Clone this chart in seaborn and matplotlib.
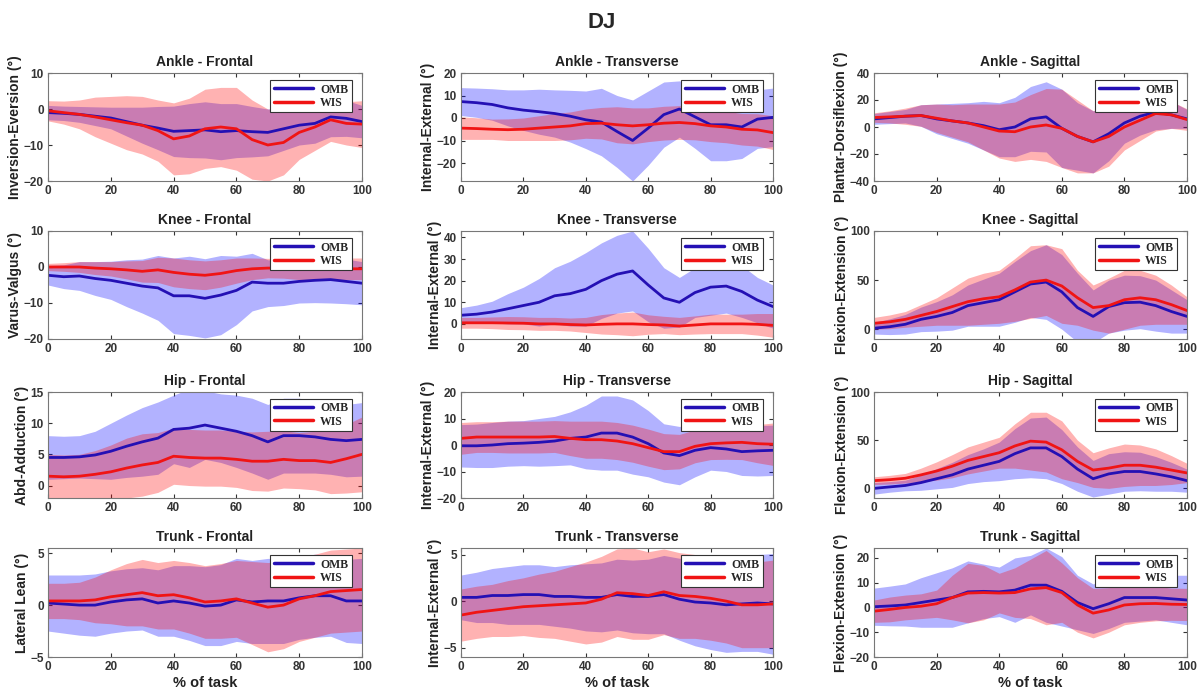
import numpy as np
import seaborn as sns
import matplotlib
matplotlib.use("Agg")
from matplotlib import pyplot as plt

# % of task, sampled every 5 %
PCT = list(range(0, 101, 5))

# Ankle - Frontal
AF_OMB = [-1.0, -1.2, -1.5, -2.0, -2.5, -3.5, -4.5, -5.3, -6.2, -6.0, -5.8, -6.3, -6.0, -6.3, -6.5, -5.5, -4.5, -4.0, -2.2, -2.6, -3.5]
AF_OMB_SD = [2.0, 2.0, 2.2, 2.6, 3.0, 4.0, 5.0, 6.0, 7.0, 7.5, 7.8, 7.8, 7.5, 7.0, 6.5, 6.0, 5.5, 5.5, 5.5, 5.0, 4.5]
AF_WIS = [-0.5, -1.0, -1.5, -2.2, -3.0, -3.8, -4.5, -6.0, -8.3, -7.5, -5.5, -5.0, -5.5, -8.5, -10.0, -9.3, -6.5, -5.0, -3.0, -4.0, -4.2]
AF_WIS_SD = [2.8, 3.2, 4.0, 5.5, 6.5, 7.5, 8.0, 8.5, 10.0, 10.5, 11.0, 11.0, 11.5, 11.0, 10.0, 9.0, 7.5, 6.5, 6.0, 6.0, 6.5]

# Ankle - Transverse
AT_OMB = [7.3, 6.8, 6.0, 4.5, 3.5, 2.8, 2.0, 0.8, -0.8, -1.8, -6.0, -10.0, -4.5, 1.5, 4.0, 0.5, -3.0, -3.0, -4.0, -0.5, 0.3]
AT_OMB_SD = [6.2, 6.5, 7.0, 8.0, 9.0, 10.0, 10.5, 11.5, 12.8, 15.0, 16.0, 18.0, 16.5, 14.5, 12.5, 14.0, 16.0, 16.0, 14.0, 13.0, 13.0]
AT_WIS = [-4.5, -4.7, -5.0, -5.2, -5.0, -4.5, -4.0, -3.5, -2.5, -2.3, -3.0, -3.5, -3.0, -2.3, -2.0, -2.5, -3.5, -4.0, -5.0, -5.3, -6.5]
AT_WIS_SD = [5.0, 4.8, 4.5, 4.8, 5.0, 5.5, 6.0, 6.2, 6.5, 7.0, 8.0, 8.0, 7.5, 7.5, 7.5, 7.2, 7.0, 7.0, 7.0, 7.2, 7.5]

# Ankle - Sagittal
AS_OMB = [6.0, 7.0, 8.0, 8.5, 6.0, 4.5, 3.0, 1.0, -2.0, 0.0, 6.0, 7.5, -1.0, -7.0, -11.0, -5.0, 3.0, 8.0, 11.0, 9.0, 6.0]
AS_OMB_SD = [4.0, 4.5, 5.0, 8.0, 11.0, 13.0, 15.0, 18.0, 20.0, 22.0, 24.0, 26.0, 29.0, 25.0, 23.0, 20.0, 15.0, 14.0, 13.0, 10.0, 7.0]
AS_WIS = [7.0, 7.5, 8.0, 8.5, 6.5, 4.5, 3.0, 0.0, -3.0, -3.5, 0.0, 1.5, -1.0, -7.0, -11.0, -7.0, 0.0, 5.0, 10.0, 9.0, 5.5]
AS_WIS_SD = [3.5, 4.5, 6.0, 8.0, 10.5, 12.0, 14.0, 17.0, 20.0, 22.0, 24.0, 27.0, 29.0, 27.0, 23.0, 22.0, 17.0, 15.0, 13.0, 10.0, 8.0]

# Knee - Frontal
KF_OMB = [-2.3, -2.7, -2.5, -3.2, -3.7, -4.5, -5.3, -5.8, -8.0, -8.0, -8.7, -7.8, -6.5, -4.2, -4.5, -4.5, -4.0, -3.7, -3.5, -4.0, -4.5]
KF_OMB_SD = [2.7, 3.3, 4.0, 4.7, 5.3, 6.5, 7.5, 9.0, 10.5, 11.0, 11.0, 11.0, 9.5, 8.0, 6.5, 6.2, 6.0, 6.2, 6.5, 6.2, 6.0]
KF_WIS = [0.0, 0.0, 0.0, -0.3, -0.5, -0.8, -1.2, -0.8, -1.5, -2.0, -2.3, -1.8, -1.0, -0.5, -0.3, -0.3, -0.5, -0.5, -0.5, -0.5, -0.5]
KF_WIS_SD = [1.0, 1.2, 1.5, 1.8, 2.0, 2.5, 3.0, 3.5, 4.0, 4.0, 4.0, 3.8, 3.5, 3.0, 2.7, 2.8, 3.0, 3.0, 3.0, 3.0, 3.0]

# Knee - Transverse
KT_OMB = [4.0, 4.5, 5.5, 7.0, 8.5, 10.0, 13.0, 14.0, 16.0, 20.0, 23.0, 24.5, 18.0, 12.0, 10.0, 14.5, 17.0, 17.5, 15.0, 11.0, 8.0]
KT_OMB_SD = [3.5, 4.2, 5.0, 7.0, 8.5, 11.0, 13.0, 15.0, 17.0, 17.5, 18.0, 18.5, 17.0, 14.0, 11.5, 11.5, 13.0, 12.5, 12.0, 10.5, 10.0]
KT_WIS = [0.5, 0.5, 0.5, 0.4, 0.3, 0.0, 0.0, -0.3, -0.5, -0.2, 0.0, 0.0, -0.3, -0.5, -1.0, -0.5, 0.0, 0.0, 0.0, -0.2, -0.7]
KT_WIS_SD = [2.5, 2.5, 2.7, 3.0, 3.0, 3.0, 3.0, 3.0, 3.5, 4.5, 5.0, 5.5, 4.5, 4.0, 4.0, 4.2, 4.5, 4.5, 4.5, 5.0, 5.5]

# Knee - Sagittal
KS_OMB = [1.0, 2.5, 5.0, 10.0, 13.0, 17.0, 24.0, 27.0, 30.0, 38.0, 46.0, 48.0, 38.0, 22.0, 13.0, 23.0, 27.0, 27.5, 24.0, 18.0, 13.0]
KS_OMB_SD = [6.0, 8.0, 10.0, 12.5, 15.0, 18.0, 21.0, 24.0, 27.0, 31.0, 34.0, 38.0, 38.0, 35.0, 27.0, 27.0, 28.0, 27.0, 26.0, 22.0, 17.0]
KS_WIS = [6.0, 7.5, 10.0, 14.0, 18.0, 23.0, 28.0, 31.0, 33.0, 40.0, 48.0, 50.0, 44.0, 32.0, 22.0, 24.0, 30.0, 32.0, 30.0, 25.0, 19.0]
KS_WIS_SD = [6.0, 7.0, 8.0, 11.0, 14.0, 19.0, 24.0, 26.0, 27.0, 32.0, 37.0, 36.0, 38.0, 28.0, 23.0, 28.0, 30.0, 28.0, 25.0, 20.0, 14.0]

# Hip - Frontal
HF_OMB = [4.5, 4.5, 4.6, 4.9, 5.5, 6.3, 7.0, 7.6, 9.0, 9.2, 9.7, 9.2, 8.7, 8.0, 7.0, 8.0, 8.0, 7.8, 7.4, 7.2, 7.4]
HF_OMB_SD = [3.5, 3.4, 3.4, 3.8, 4.5, 5.0, 5.5, 5.8, 5.5, 6.3, 5.5, 5.5, 5.8, 6.0, 6.0, 6.0, 6.0, 5.8, 5.6, 5.8, 5.9]
HF_WIS = [1.5, 1.4, 1.5, 1.8, 2.2, 2.8, 3.3, 3.7, 4.7, 4.5, 4.4, 4.4, 4.2, 3.9, 3.9, 4.2, 4.0, 4.0, 3.7, 4.3, 5.0]
HF_WIS_SD = [3.5, 3.5, 3.5, 3.8, 4.3, 4.8, 5.0, 4.8, 4.5, 4.5, 4.5, 4.5, 4.5, 4.7, 4.8, 4.6, 4.5, 4.7, 5.0, 5.5, 6.0]

# Hip - Transverse
HT_OMB = [-0.3, -0.3, 0.0, 0.5, 0.7, 1.0, 1.5, 2.5, 3.0, 4.5, 4.5, 3.0, 0.5, -3.0, -4.0, -2.0, -1.0, -1.5, -2.5, -2.2, -2.0]
HT_OMB_SD = [8.0, 8.2, 8.5, 8.5, 8.5, 9.0, 9.3, 10.0, 12.0, 14.0, 14.0, 14.0, 12.5, 11.0, 11.0, 10.0, 8.5, 8.5, 9.0, 9.5, 9.5]
HT_WIS = [2.5, 3.0, 3.0, 3.0, 3.0, 3.0, 3.2, 2.5, 2.0, 2.0, 1.5, 0.5, -1.0, -2.5, -2.5, -0.5, 0.5, 0.8, 1.0, 0.5, 0.3]
HT_WIS_SD = [6.0, 5.8, 5.8, 6.0, 6.0, 6.0, 6.0, 6.5, 7.0, 7.0, 7.0, 7.0, 7.0, 6.8, 6.5, 6.2, 6.0, 6.2, 6.5, 7.2, 8.0]

# Hip - Sagittal
HS_OMB = [0.0, 1.5, 3.0, 6.0, 10.0, 14.0, 20.0, 24.0, 28.0, 36.0, 42.0, 42.0, 33.0, 20.0, 10.0, 15.0, 17.5, 17.5, 15.0, 12.0, 8.0]
HS_OMB_SD = [6.0, 5.5, 5.5, 8.0, 10.5, 13.0, 15.0, 17.0, 20.0, 26.0, 31.0, 32.0, 28.0, 23.0, 19.0, 21.0, 20.5, 20.0, 18.0, 15.0, 12.0]
HS_WIS = [8.0, 9.0, 10.5, 14.0, 18.0, 23.0, 29.0, 33.0, 37.0, 44.0, 49.0, 48.0, 40.0, 28.0, 19.0, 21.0, 24.0, 24.0, 22.0, 19.0, 16.0]
HS_WIS_SD = [4.0, 4.5, 5.0, 7.0, 9.5, 12.0, 14.0, 15.0, 16.0, 23.0, 30.0, 31.0, 30.0, 22.0, 18.0, 21.0, 22.0, 21.0, 19.0, 15.0, 10.0]

# Trunk - Frontal
TF_OMB = [0.2, 0.1, 0.0, 0.0, 0.3, 0.5, 0.6, 0.2, 0.4, 0.2, -0.1, 0.0, 0.5, 0.3, 0.4, 0.4, 0.7, 0.9, 0.9, 0.4, 0.4]
TF_OMB_SD = [2.7, 2.8, 2.9, 3.0, 3.0, 3.0, 3.0, 3.2, 3.4, 3.6, 3.8, 3.9, 4.0, 4.0, 4.1, 4.1, 4.0, 4.0, 3.9, 4.0, 4.1]
TF_WIS = [0.4, 0.4, 0.4, 0.5, 0.8, 1.0, 1.2, 0.9, 1.0, 0.7, 0.3, 0.4, 0.6, 0.2, -0.2, 0.0, 0.6, 0.9, 1.3, 1.4, 1.5]
TF_WIS_SD = [1.7, 1.7, 1.8, 2.2, 2.6, 3.0, 3.2, 3.2, 3.3, 3.4, 3.5, 3.6, 3.7, 4.0, 4.3, 4.2, 4.1, 4.0, 4.0, 4.0, 4.0]

# Trunk - Transverse
TT_OMB = [0.4, 0.4, 0.6, 0.6, 0.7, 0.7, 0.5, 0.5, 0.4, 0.4, 0.7, 0.5, 0.5, 0.7, 0.2, -0.1, -0.2, -0.4, -0.3, -0.2, -0.3]
TT_OMB_SD = [2.4, 2.7, 2.9, 3.1, 3.2, 3.2, 3.2, 3.4, 3.6, 3.7, 3.8, 3.9, 4.0, 4.2, 4.4, 4.7, 5.0, 5.1, 5.1, 5.2, 5.4]
TT_WIS = [-1.5, -1.2, -1.0, -0.8, -0.6, -0.5, -0.4, -0.3, -0.2, 0.2, 0.9, 0.8, 0.6, 1.0, 0.6, 0.5, 0.3, 0.0, -0.4, -0.4, -0.3]
TT_WIS_SD = [2.8, 2.8, 2.8, 3.0, 3.1, 3.4, 3.6, 4.0, 4.4, 4.6, 4.7, 4.9, 4.7, 4.6, 4.6, 4.5, 4.5, 4.5, 4.6, 4.6, 4.7]

# Trunk - Sagittal
TS_OMB = [0.3, 0.6, 1.0, 2.0, 3.0, 4.0, 6.3, 6.5, 6.3, 7.0, 9.0, 9.0, 6.5, 2.0, -0.5, 1.5, 4.0, 4.0, 4.0, 3.5, 3.0]
TS_OMB_SD = [7.5, 8.0, 8.5, 10.0, 11.0, 12.0, 12.5, 11.0, 10.0, 13.0, 12.0, 15.0, 14.0, 11.0, 10.0, 10.0, 10.0, 9.5, 9.0, 9.5, 10.0]
TS_WIS = [-1.5, -0.8, 0.0, 0.5, 1.5, 4.0, 5.8, 6.0, 5.8, 6.0, 7.5, 8.0, 6.0, 1.0, -2.3, -1.0, 1.0, 1.5, 1.6, 1.3, 1.2]
TS_WIS_SD = [4.5, 5.0, 5.0, 5.0, 5.5, 9.0, 12.0, 11.0, 8.0, 10.0, 12.0, 15.0, 12.0, 11.0, 10.0, 9.0, 8.0, 7.5, 7.0, 6.5, 6.5]

TITLES = ['Ankle - Frontal', 'Ankle - Transverse', 'Ankle - Sagittal',
          'Knee - Frontal', 'Knee - Transverse', 'Knee - Sagittal',
          'Hip - Frontal', 'Hip - Transverse', 'Hip - Sagittal',
          'Trunk - Frontal', 'Trunk - Transverse', 'Trunk - Sagittal']
YLABELS = ['Inversion-Eversion (°)', 'Internal-External (°)', 'Plantar-Dorsiflexion (°)',
           'Varus-Valgus (°)', 'Internal-External (°)', 'Flexion-Extension (°)',
           'Abd-Adduction (°)', 'Internal-External (°)', 'Flexion-Extension (°)',
           'Lateral Lean (°)', 'Internal-External (°)', 'Flexion-Extension (°)']
YLIMS = [(-20, 10), (-28, 20), (-40, 40),
         (-20, 10), (-7, 43), (-10, 100),
         (-2, 15), (-20, 20), (-10, 100),
         (-5, 5.5), (-6, 5.7), (-20, 24)]
YTICKS = [[-20, -10, 0, 10], [-20, -10, 0, 10, 20], [-40, -20, 0, 20, 40],
          [-20, -10, 0, 10], [0, 10, 20, 30, 40], [0, 50, 100],
          [0, 5, 10, 15], [-20, -10, 0, 10, 20], [0, 50, 100],
          [-5, 0, 5], [-5, 0, 5], [-20, -10, 0, 10, 20]]
SERIES = [(AF_OMB, AF_OMB_SD, AF_WIS, AF_WIS_SD), (AT_OMB, AT_OMB_SD, AT_WIS, AT_WIS_SD),
          (AS_OMB, AS_OMB_SD, AS_WIS, AS_WIS_SD), (KF_OMB, KF_OMB_SD, KF_WIS, KF_WIS_SD),
          (KT_OMB, KT_OMB_SD, KT_WIS, KT_WIS_SD), (KS_OMB, KS_OMB_SD, KS_WIS, KS_WIS_SD),
          (HF_OMB, HF_OMB_SD, HF_WIS, HF_WIS_SD), (HT_OMB, HT_OMB_SD, HT_WIS, HT_WIS_SD),
          (HS_OMB, HS_OMB_SD, HS_WIS, HS_WIS_SD), (TF_OMB, TF_OMB_SD, TF_WIS, TF_WIS_SD),
          (TT_OMB, TT_OMB_SD, TT_WIS, TT_WIS_SD), (TS_OMB, TS_OMB_SD, TS_WIS, TS_WIS_SD)]

OMB_LINE = '#2410b4'
WIS_LINE = '#f01414'
OMB_BAND = '#0000ff'
WIS_BAND = '#ff0000'

sns.set_theme(style='white')
plt.rcParams['font.family'] = ['Liberation Sans', 'DejaVu Sans']

fig = plt.figure(figsize=(12.03, 6.95), dpi=100)

# axes boxes in pixels (left, right) / (top, bottom)
cols = [(48, 362), (461, 773), (874, 1187)]
rows = [(73, 181), (231, 339), (392, 498), (548, 657)]
W, H = 1203, 695

for i in range(12):
    r, c = divmod(i, 3)
    x0, x1 = cols[c]
    y0, y1 = rows[r]
    ax = fig.add_axes([x0 / W, 1 - y1 / H, (x1 - x0) / W, (y1 - y0) / H])

    omb, omb_sd, wis, wis_sd = [np.array(v) for v in SERIES[i]]
    ax.fill_between(PCT, omb - omb_sd, omb + omb_sd, color=OMB_BAND, alpha=0.3, lw=0)
    ax.fill_between(PCT, wis - wis_sd, wis + wis_sd, color=WIS_BAND, alpha=0.3, lw=0)
    sns.lineplot(x=PCT, y=omb, ax=ax, color=OMB_LINE, lw=2, label='OMB')
    sns.lineplot(x=PCT, y=wis, ax=ax, color=WIS_LINE, lw=2, label='WIS')

    ax.set_xlim(0, 100)
    ax.set_ylim(*YLIMS[i])
    ax.set_xticks(range(0, 101, 20))
    ax.set_yticks(YTICKS[i])
    ax.tick_params(direction='in', top=True, right=True, bottom=True, left=True,
                   length=3, width=0.8, labelsize=8.5, colors='#333333', pad=3)
    for lab in ax.get_xticklabels() + ax.get_yticklabels():
        lab.set_fontweight('bold')
    for sp in ax.spines.values():
        sp.set_color('#777777')
        sp.set_linewidth(0.8)

    ax.set_title(TITLES[i], fontsize=10, fontweight='bold', color='#222222', pad=5)
    ax.set_ylabel(YLABELS[i], fontsize=10, fontweight='bold', color='#222222', labelpad=1)
    if r == 3:
        ax.set_xlabel('% of task', fontsize=10.5, fontweight='bold', color='#222222', labelpad=2)

    leg = ax.legend(loc='upper right', bbox_to_anchor=(0.967, 0.935), borderaxespad=0,
                    prop={'family': 'Liberation Serif', 'weight': 'bold', 'size': 8.5},
                    handlelength=3.3, handletextpad=0.6, labelspacing=0.1,
                    borderpad=0.3, fancybox=False, framealpha=1)
    leg.get_frame().set_edgecolor('#333333')
    leg.get_frame().set_linewidth(0.8)
    for h in leg.get_lines():
        h.set_linewidth(2.5)

fig.text(0.5, 1 - 22 / H, 'DJ', ha='center', va='center', fontsize=16, fontweight='bold')

fig.savefig('out.png', dpi=100)
